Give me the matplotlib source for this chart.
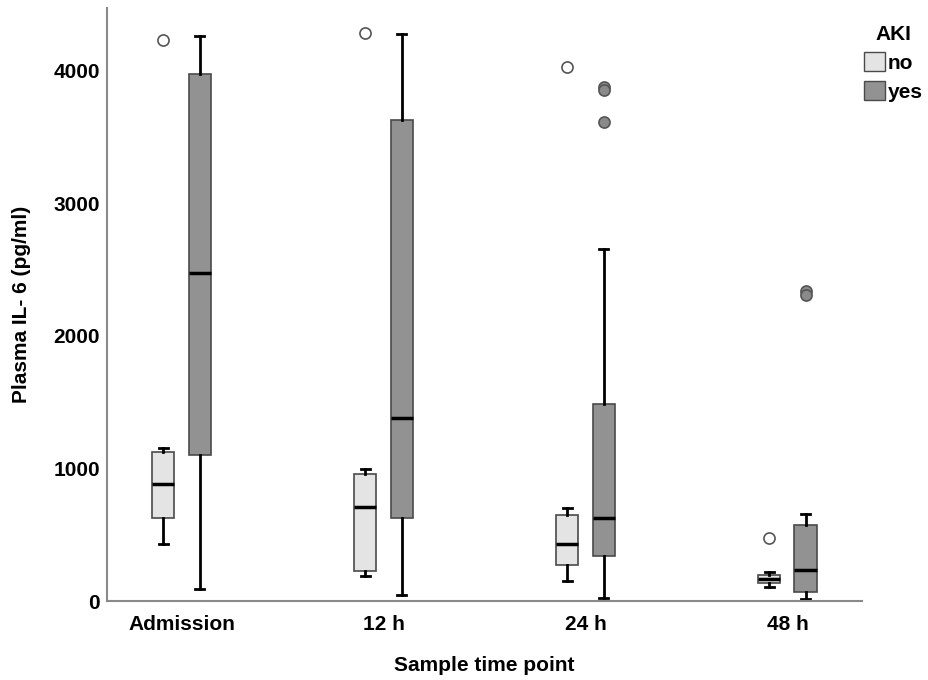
import matplotlib
matplotlib.use("Agg")
import matplotlib.pyplot as plt
from matplotlib.patches import Patch

plt.rcParams['font.family'] = ['Liberation Sans', 'DejaVu Sans']

# time points and groups
timepoints = ['Admission', '12 h', '24 h', '48 h']
groups = ['no', 'yes']

# box stats (pg/ml), one list per statistic, ordered by time point
no_whislo = [427, 191, 149, 104]
no_q1 = [627, 230, 275, 134]
no_med = [884, 710, 433, 164]
no_q3 = [1125, 955, 648, 194]
no_whishi = [1155, 994, 701, 218]
no_fliers = [[4230], [4283], [4030], [478]]

yes_whislo = [93, 45, 21, 15]
yes_q1 = [1101, 627, 340, 66]
yes_med = [2472, 1382, 630, 236]
yes_q3 = [3970, 3624, 1484, 573]
yes_whishi = [4263, 4272, 2657, 657]
yes_fliers = [[], [], [3872, 3850, 3612], [2340, 2310]]


def make_stats(lo, q1, med, q3, hi, fl):
    out = []
    for i in range(len(lo)):
        out.append({'whislo': lo[i], 'q1': q1[i], 'med': med[i], 'q3': q3[i],
                    'whishi': hi[i], 'fliers': fl[i]})
    return out


no_stats = make_stats(no_whislo, no_q1, no_med, no_q3, no_whishi, no_fliers)
yes_stats = make_stats(yes_whislo, yes_q1, yes_med, yes_q3, yes_whishi, yes_fliers)

fig = plt.figure(figsize=(9.29, 6.8), dpi=100)
ax = fig.add_axes([0.115, 0.116, 0.813, 0.872])

off = 0.09
w = 0.11
pos = list(range(len(timepoints)))

edge = '#4a4a4a'
for stats, dx, face, fl_face in [(no_stats, -off, '#e4e4e4', 'white'),
                                 (yes_stats, off, '#929292', '#8a8a8a')]:
    ax.bxp(stats, positions=[p + dx for p in pos], widths=w, patch_artist=True,
           boxprops=dict(facecolor=face, edgecolor=edge, linewidth=1.2),
           medianprops=dict(color='black', linewidth=2.5),
           whiskerprops=dict(color='black', linewidth=2),
           capprops=dict(color='black', linewidth=2),
           capwidths=w * 0.4,
           flierprops=dict(marker='o', markerfacecolor=fl_face,
                           markeredgecolor='#555555', markersize=8,
                           markeredgewidth=1.2),
           manage_ticks=False)

ax.set_xlim(-0.37, 3.37)
ax.set_ylim(0, 4470)
ax.set_xticks(pos)
ax.set_xticklabels(timepoints)
ax.set_yticks([0, 1000, 2000, 3000, 4000])
ax.tick_params(length=0, labelsize=15)
ax.tick_params(axis='y', pad=5)
ax.tick_params(axis='x', pad=10)
for lab in ax.get_xticklabels() + ax.get_yticklabels():
    lab.set_fontweight('bold')

for s in ['top', 'right']:
    ax.spines[s].set_visible(False)
for s in ['left', 'bottom']:
    ax.spines[s].set_color('#8a8a8a')
    ax.spines[s].set_linewidth(1.5)

ax.set_ylabel('Plasma IL- 6 (pg/ml)', fontsize=15, fontweight='bold', labelpad=16)
ax.set_xlabel('Sample time point', fontsize=15, fontweight='bold', labelpad=16)

handles = [Patch(facecolor='#e4e4e4', edgecolor=edge, label=groups[0]),
           Patch(facecolor='#929292', edgecolor=edge, label=groups[1])]
leg = fig.legend(handles=handles, title='AKI', loc='upper left',
                 bbox_to_anchor=(0.930, 0.963), frameon=False,
                 prop={'size': 15, 'weight': 'bold'},
                 handlelength=1.0, handleheight=1.0, handletextpad=0.15,
                 labelspacing=0.4, borderpad=0.0, borderaxespad=0.0)
leg.get_title().set_fontsize(15)
leg.get_title().set_fontweight('bold')

fig.savefig('out.png', dpi=100)
